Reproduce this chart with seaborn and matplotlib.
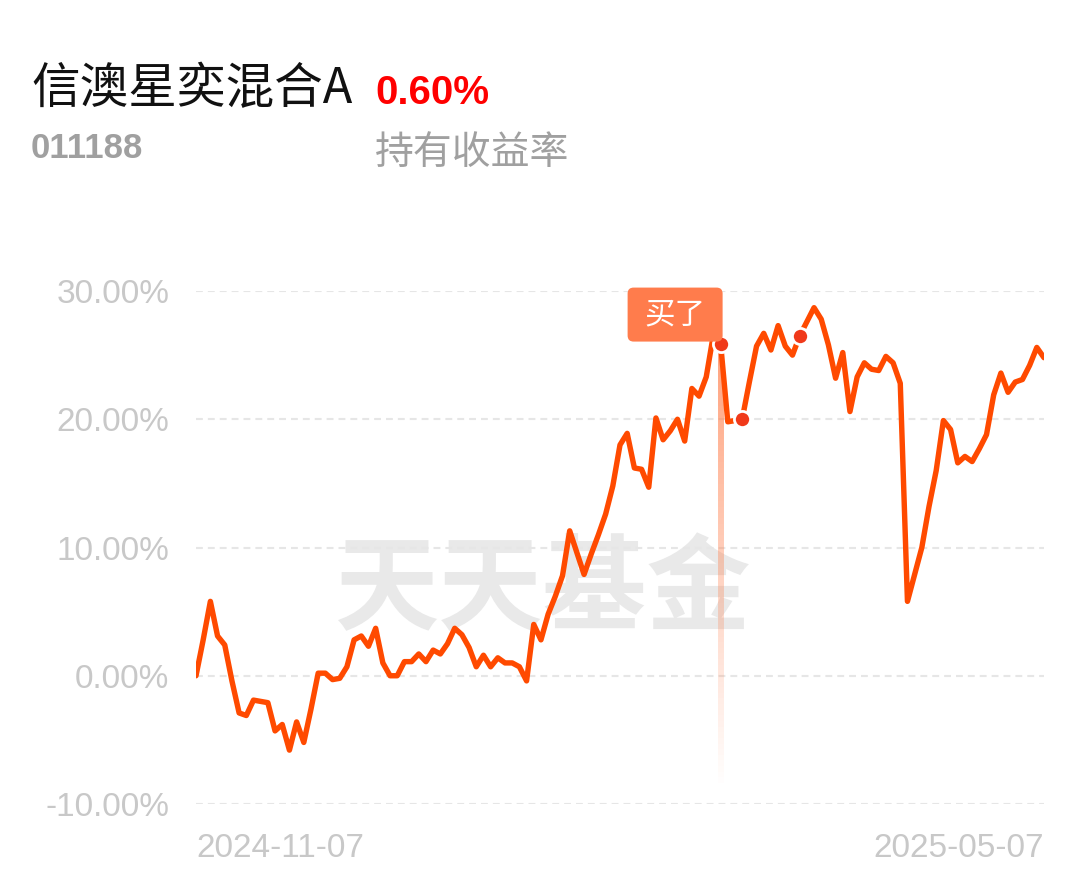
import numpy as np
import matplotlib
matplotlib.use("Agg")
import matplotlib.pyplot as plt
import matplotlib.transforms as mtransforms
from matplotlib.patches import FancyBboxPatch
from matplotlib.collections import LineCollection
import seaborn as sns

# holding return (%) per trading day, 2024-11-07 .. 2025-05-07
returns = [
    0.0, 2.8, 5.8, 3.1, 2.4, -0.4, -2.9, -3.1, -1.9, -2.0,
    -2.1, -4.3, -3.8, -5.8, -3.6, -5.2, -2.6, 0.2, 0.2, -0.3,
    -0.2, 0.7, 2.8, 3.1, 2.3, 3.7, 1.0, 0.0, 0.0, 1.1,
    1.1, 1.7, 1.1, 2.0, 1.7, 2.5, 3.7, 3.2, 2.2, 0.7,
    1.6, 0.7, 1.4, 1.0, 1.0, 0.7, -0.4, 4.0, 2.8, 4.8,
    6.2, 7.8, 11.3, 9.6, 7.9, 9.5, 11.0, 12.6, 14.8, 18.0,
    18.9, 16.2, 16.1, 14.7, 20.1, 18.4, 19.1, 20.0, 18.3, 22.4,
    21.8, 23.3, 26.6, 25.9, 19.8, 19.9, 20.0, 22.9, 25.7, 26.7,
    25.4, 27.3, 25.7, 25.0, 26.5, 27.6, 28.7, 27.8, 25.8, 23.2,
    25.2, 20.6, 23.3, 24.4, 23.9, 23.8, 24.9, 24.4, 22.8, 5.8,
    7.9, 10.0, 13.2, 16.0, 19.9, 19.2, 16.6, 17.1, 16.7, 17.7,
    18.8, 21.9, 23.6, 22.1, 22.9, 23.1, 24.2, 25.6, 24.8,
]
days = np.arange(len(returns))
date_labels = ["2024-11-07", "2025-05-07"]
y_ticks = [-10, 0, 10, 20, 30]
trade_days = [73, 76, 84]  # first one is the buy
buy_text = "买了"

fund_name = "信澳星奕混合A"
fund_code = "011188"
hold_return = "0.60%"
hold_label = "持有收益率"

sns.set_theme(style="white")
plt.rcParams["font.family"] = ["Liberation Sans", "Noto Sans CJK SC", "DejaVu Sans"]
cjk = ["Noto Sans CJK SC", "DejaVu Sans"]

W, H = 1089, 881
fig = plt.figure(figsize=(W / 100, H / 100), dpi=100)
ax = fig.add_axes([196 / W, 77 / H, 848 / W, 513 / H])

# watermark
ax.text(0.41, 0.415, "天天基金", transform=ax.transAxes, ha="center", va="center",
        fontsize=75, fontweight="bold", color="#e9e9e9", family=cjk, zorder=0)

sns.lineplot(x=days, y=returns, ax=ax, color="#ff4a00", linewidth=3.9,
             solid_joinstyle="round", solid_capstyle="round", zorder=3)

# fading vertical line under the buy point
bx = trade_days[0]
by = returns[bx]
ys = np.linspace(by, -8.8, 80)
segs = [[(bx, ys[i]), (bx, ys[i + 1])] for i in range(len(ys) - 1)]
alphas = np.linspace(0.7, 0.0, len(segs))
cols = [(1.0, 0.48, 0.27, a) for a in alphas]
ax.add_collection(LineCollection(segs, colors=cols, linewidths=4.3, zorder=2))

sns.scatterplot(x=trade_days, y=[returns[d] for d in trade_days], ax=ax, s=135,
                color="#f0391a", edgecolor="white", linewidth=2.0, zorder=5, clip_on=False)

# "买了" tag, sized in pixels relative to the buy point
tr = mtransforms.Affine2D() + mtransforms.ScaledTranslation(bx, by, ax.transData)
tag = FancyBboxPatch((-93, 2), 95, 54, boxstyle="round,pad=0,rounding_size=6",
                     fc="#ff7c4c", ec="none", transform=tr, zorder=6, clip_on=False)
ax.add_artist(tag)
ax.text(-45.5, 29, buy_text, transform=tr, ha="center", va="center", color="white",
        fontsize=22, family=cjk, zorder=7, clip_on=False)

ax.set_xlim(0, len(returns) - 1)
ax.set_ylim(-10, 30)
ax.set_yticks(y_ticks)
ax.set_yticklabels([f"{v:.2f}%" for v in y_ticks])
ax.set_xticks([0, len(returns) - 1])
ax.set_xticklabels(date_labels)
xl = ax.get_xticklabels()
xl[0].set_ha("left")
xl[-1].set_ha("right")
ax.tick_params(colors="#c8c8c8", labelsize=24, length=0)
ax.tick_params(axis="y", pad=19)
ax.tick_params(axis="x", pad=21)
ax.grid(axis="y", color="#e6e6e6", linewidth=1.5, linestyle=(0, (3.3, 2.4)))
ax.grid(axis="x", visible=False)
ax.set_xlabel("")
ax.set_ylabel("")
for s in ax.spines.values():
    s.set_visible(False)

# header
fig.text(31 / W, 1 - 103 / H, fund_name, fontsize=35, color="#111111", family=cjk, va="baseline")
fig.text(375 / W, 1 - 104 / H, hold_return, fontsize=29, color="#ff0000",
         fontweight="bold", va="baseline")
fig.text(31 / W, 1 - 158 / H, fund_code, fontsize=25, color="#a0a0a0",
         fontweight="bold", va="baseline")
fig.text(375 / W, 1 - 164 / H, hold_label, fontsize=28, color="#a0a0a0", family=cjk, va="baseline")

fig.savefig("out.png", dpi=100)
